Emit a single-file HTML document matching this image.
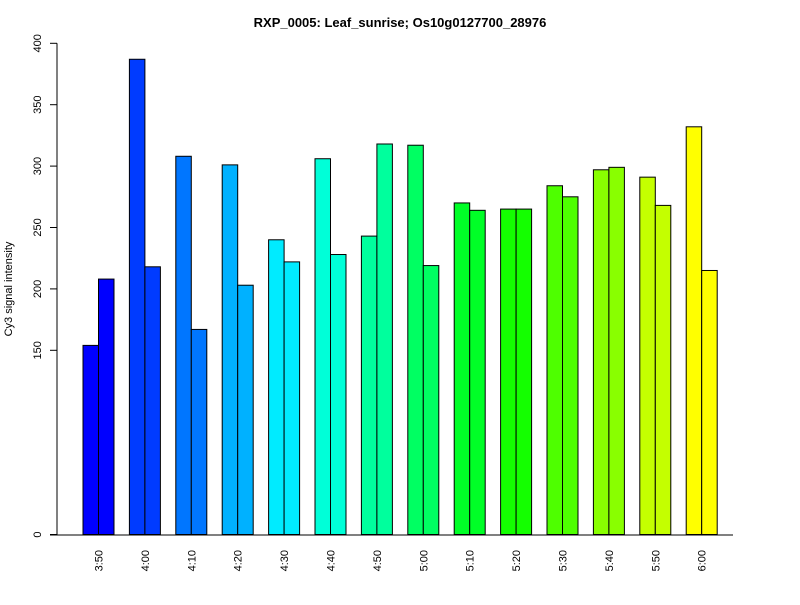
<!DOCTYPE html>
<html><head><meta charset="utf-8"><style>
body{margin:0;background:#fff;}
svg text{font-family:"Liberation Sans",Arial,sans-serif;}
</style></head><body>
<svg id="chart" width="800" height="600" xmlns="http://www.w3.org/2000/svg">
<text x="400" y="27" text-anchor="middle" font-size="13" font-weight="bold">RXP_0005: Leaf_sunrise; Os10g0127700_28976</text>
<text transform="translate(12,289) rotate(-90)" text-anchor="middle" font-size="11">Cy3 signal intensity</text>
<g id="marks"></g>
</svg>
<script>
const categories=["3:50","4:00","4:10","4:20","4:30","4:40","4:50","5:00","5:10","5:20","5:30","5:40","5:50","6:00"];
const series1=[154,387,308,301,240,306,243,317,270,265,284,297,291,332];
const series2=[208,218,167,203,222,228,318,219,264,265,275,299,268,215];
const yTicks=[0,150,200,250,300,350,400];
const NS="http://www.w3.org/2000/svg";
const g=document.getElementById('marks');
function y(v){return 534.5-v*1.228;}
function x(i){return 83+i*46.4;}
const bw=15.5;
function mk(t,a){const e=document.createElementNS(NS,t);for(const k in a)e.setAttribute(k,a[k]);g.appendChild(e);return e;}
function hsv(h){const f=n=>{const k=(n+h/60)%6;return Math.round(255*(1-Math.max(0,Math.min(k,4-k,1))));};return `rgb(${f(5)},${f(3)},${f(1)})`;}
categories.forEach((c,i)=>{
  const col=hsv(240-i*180/13);
  [series1[i],series2[i]].forEach((v,j)=>{
    const r=mk('rect',{x:x(i)+j*bw,y:y(v),width:bw,height:y(0)-y(v),fill:col,stroke:'#000','stroke-width':1});
    
    
  });
  const t=mk('text',{transform:`translate(${x(i)+bw+4},${550}) rotate(-90)`,'text-anchor':'end','font-size':11});
  t.textContent=c;
  
  
});
const ax=mk('path',{d:`M57,${y(400)}V${y(0)}M50,535H733`,stroke:'#000',fill:'none'});


yTicks.forEach(v=>{
  const tk=mk('line',{x1:50,x2:57,y1:y(v),y2:y(v),stroke:'#000'});
  
  
  const t=mk('text',{transform:`translate(41,${y(v)}) rotate(-90)`,'text-anchor':'middle','font-size':11});
  t.textContent=v;
  
  
});
</script>
</body></html>
